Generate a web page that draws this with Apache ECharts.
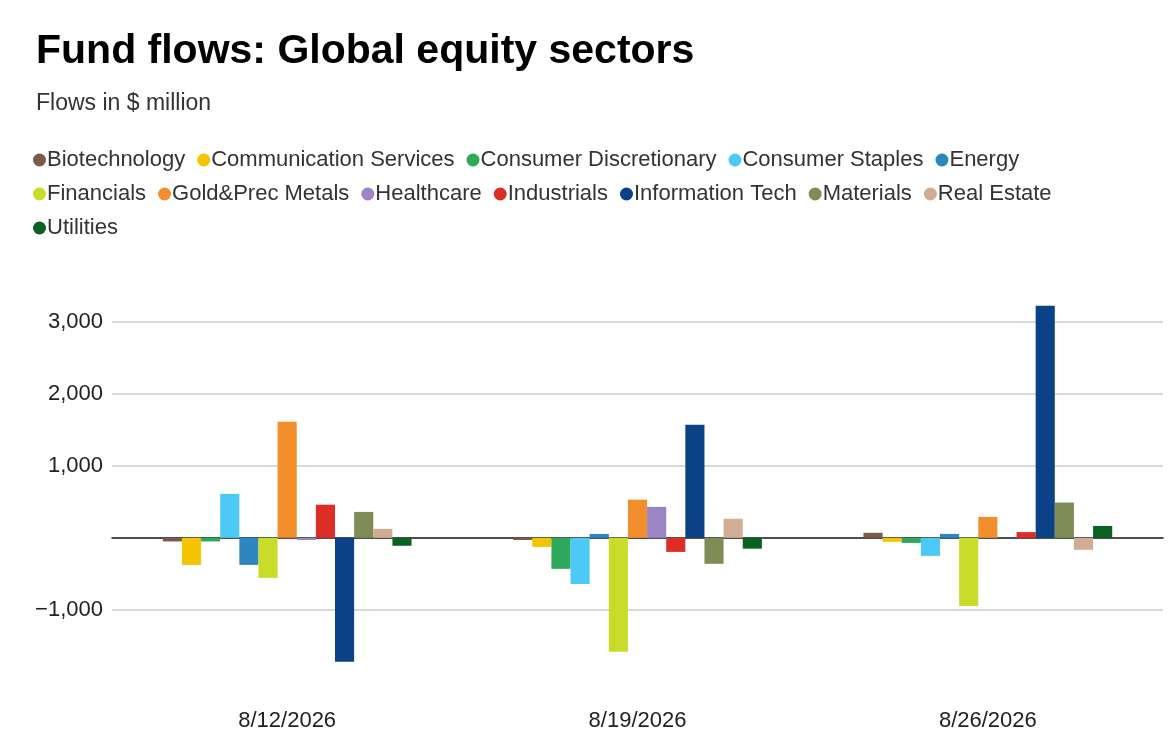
<!DOCTYPE html>
<html>
<head>
<meta charset="utf-8">
<script src="https://cdn.jsdelivr.net/npm/echarts@6/dist/echarts.min.js"></script>
<style>
  html, body { margin: 0; padding: 0; background: #fff; }
  #chart { width: 1176px; height: 748px; }
</style>
</head>
<body>
<div id="chart"></div>
<script>
// weeks on the x axis
const weeks = ['8/12/2026', '8/19/2026', '8/26/2026']

// sector names + colours (legend order)
const sectors = ['Biotechnology', 'Communication Services', 'Consumer Discretionary', 'Consumer Staples', 'Energy',
  'Financials', 'Gold&Prec Metals', 'Healthcare', 'Industrials', 'Information Tech', 'Materials', 'Real Estate', 'Utilities']
const colors = ['#7a5a48', '#f5c400', '#2ea85a', '#4dc9f6', '#2e86c1', '#c9dc2a', '#f28e2b',
  '#9b85c4', '#dc2e26', '#0b4186', '#7f8c55', '#d0ad94', '#0b6122']

// flows in $ million, one array per sector: [8/12, 8/19, 8/26]
const biotech = [-50, -30, 70]
const commServices = [-375, -125, -55]
const consDisc = [-50, -430, -70]
const consStaples = [610, -640, -250]
const energy = [-375, 55, 55]
const financials = [-555, -1580, -945]
const goldMetals = [1610, 530, 290]
const healthcare = [-30, 430, 0]
const industrials = [460, -195, 80]
const infoTech = [-1720, 1570, 3220]
const materials = [360, -360, 490]
const realEstate = [125, 265, -165]
const utilities = [-110, -150, 165]

const values = [biotech, commServices, consDisc, consStaples, energy, financials, goldMetals,
  healthcare, industrials, infoTech, materials, realEstate, utilities]

const font = 'Helvetica, "Liberation Sans", Arial, sans-serif'
const chart = echarts.init(document.getElementById('chart'))

chart.setOption({
  animation: false,
  color: colors,
  title: {
    text: 'Fund flows: Global equity sectors',
    subtext: 'Flows in $ million',
    left: 31,
    top: 26,
    itemGap: 20,
    textStyle: { fontFamily: font, fontSize: 41, fontWeight: 'bold', color: '#000' },
    subtextStyle: { fontFamily: font, fontSize: 23, color: '#333' }
  },
  legend: {
    left: 28,
    top: 144,
    width: 1090,
    icon: 'circle',
    itemWidth: 13,
    itemHeight: 13,
    itemGap: 12,
    textStyle: { fontFamily: font, fontSize: 22, color: '#333', padding: [0, 0, 0, -4] }
  },
  grid: { left: 112, right: 13, top: 300, bottom: 66 },
  xAxis: {
    type: 'category',
    data: weeks,
    axisLine: { lineStyle: { color: '#222', width: 1.5 }, onZero: true },
    axisTick: { show: false },
    axisLabel: { fontFamily: font, fontSize: 22, color: '#222', margin: 28 }
  },
  yAxis: {
    type: 'value',
    min: -2000,
    max: 3300,
    interval: 1000,
    axisLine: { show: false },
    axisTick: { show: false },
    splitLine: { lineStyle: { color: ['transparent', '#cccccc', '#cccccc', '#cccccc', '#cccccc', '#cccccc'], width: 1.5 } },
    axisLabel: {
      fontFamily: font, fontSize: 22, color: '#222', margin: 9,
      formatter: v => (v === -2000 || v === 0 || v > 3000) ? '' : (v < 0 ? '\u2212' : '') + Math.abs(v).toLocaleString('en-US')
    }
  },
  series: sectors.map((name, i) => ({
    name,
    type: 'bar',
    data: values[i],
    barGap: '0%',
    barCategoryGap: '29%'
  }))
})
</script>
</body>
</html>
